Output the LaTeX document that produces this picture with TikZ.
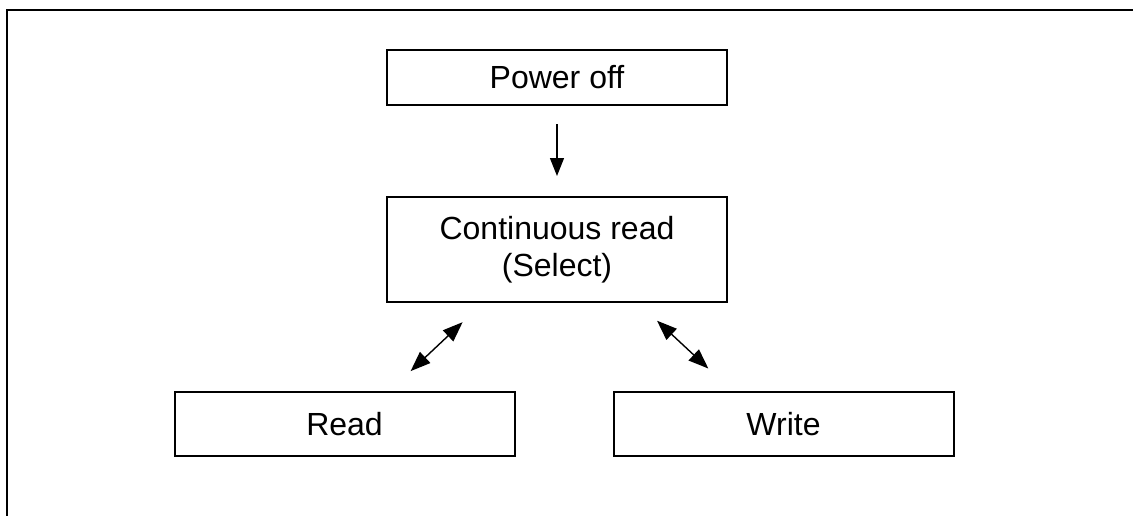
\documentclass[tikz,border=0pt]{standalone}
\usepackage{fontspec}
\setmainfont{Liberation Sans}
\usetikzlibrary{positioning, arrows.meta}

\begin{document}
\begin{tikzpicture}[x=1pt, y=-1pt]

  \tikzstyle{state}=[draw, line width=2pt, inner sep=0pt, align=center,
    minimum width=340pt, font=\fontsize{32}{37}\selectfont]
  \tikzstyle{trans}=[line width=1.4pt, -{Triangle[length=18pt, width=14pt]}]
  \tikzstyle{both}=[line width=1.4pt, {Triangle[length=20pt, width=15pt]}-{Triangle[length=20pt, width=15pt]}]

  \useasboundingbox (0,0) rectangle (1133,515);
  \fill [white] (0,0) rectangle (1133,515);
  \clip (0,0) rectangle (1133,515);
  \draw [line width=2.4pt] (7,10) rectangle (1150,530);

  \node [state, minimum height=55pt] (poweroff) at (557,77.5) {Power off};
  \node [state, minimum height=105pt, below = 90pt of poweroff] (contread) {
    Continuous read \\
    (Select)
  };

  \node [state, minimum height=64pt] (read) at (344.5,424) {Read};
  \node [state, minimum height=64pt, right = 97pt of read] (write) {Write};

  \draw [trans, shorten <=18pt, shorten >=20pt] (poweroff) -- (contread);
  \draw [both, shorten <=28pt, shorten >=29pt] ([xshift=97pt]contread.south west) -- ([xshift=216pt]read.north west);
  \draw [both, shorten <=26pt, shorten >=33pt] ([xshift=-90pt]contread.south east) -- ([xshift=120pt]write.north west);

\end{tikzpicture}
\end{document}
